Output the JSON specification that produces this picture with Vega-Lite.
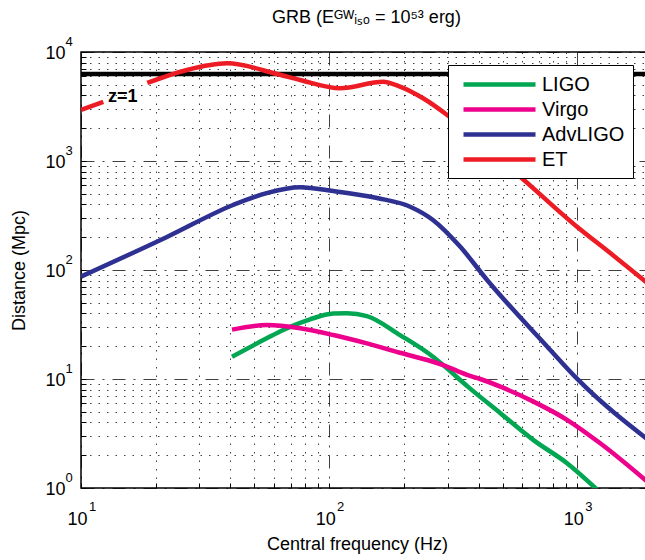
{
  "$schema": "https://vega.github.io/schema/vega-lite/v6.json",
  "width": 571,
  "height": 436,
  "autosize": {"type": "none"},
  "padding": {"left": 81, "top": 52, "right": 0, "bottom": 72},
  "background": "white",
  "config": {"font": "Liberation Sans", "view": {"stroke": "#000", "strokeWidth": 1.5}},
  "title": {"text": "GRB (Eᴳᵂᵢₛₒ = 10⁵³ erg)", "fontSize": 18, "fontWeight": "normal", "font": "Liberation Sans", "anchor": "middle", "frame": "group", "baseline": "alphabetic", "offset": -5, "color": "#000"},
  "datasets": {
    "curves": [
      {"detector": "ET", "seg": "ET1", "f": 10.0, "D": 2940},
      {"detector": "ET", "seg": "ET1", "f": 12.3, "D": 3480},
      {"detector": "ET", "seg": "ET2", "f": 18.5, "D": 5200},
      {"detector": "ET", "seg": "ET2", "f": 26.7, "D": 6840},
      {"detector": "ET", "seg": "ET2", "f": 38.8, "D": 7870},
      {"detector": "ET", "seg": "ET2", "f": 61.7, "D": 6280},
      {"detector": "ET", "seg": "ET2", "f": 76.4, "D": 5540},
      {"detector": "ET", "seg": "ET2", "f": 110.8, "D": 4650},
      {"detector": "ET", "seg": "ET2", "f": 165, "D": 5340},
      {"detector": "ET", "seg": "ET2", "f": 193, "D": 4810},
      {"detector": "ET", "seg": "ET2", "f": 239, "D": 3760},
      {"detector": "ET", "seg": "ET2", "f": 299, "D": 2640},
      {"detector": "ET", "seg": "ET2", "f": 400, "D": 1510},
      {"detector": "ET", "seg": "ET2", "f": 578, "D": 745},
      {"detector": "ET", "seg": "ET2", "f": 1000, "D": 248},
      {"detector": "ET", "seg": "ET2", "f": 1358, "D": 143},
      {"detector": "ET", "seg": "ET2", "f": 2000, "D": 70},
      {"detector": "AdvLIGO", "seg": "A", "f": 10, "D": 87},
      {"detector": "AdvLIGO", "seg": "A", "f": 22.2, "D": 201},
      {"detector": "AdvLIGO", "seg": "A", "f": 41, "D": 395},
      {"detector": "AdvLIGO", "seg": "A", "f": 56, "D": 508},
      {"detector": "AdvLIGO", "seg": "A", "f": 76.4, "D": 575},
      {"detector": "AdvLIGO", "seg": "A", "f": 104, "D": 530},
      {"detector": "AdvLIGO", "seg": "A", "f": 156, "D": 457},
      {"detector": "AdvLIGO", "seg": "A", "f": 212, "D": 381},
      {"detector": "AdvLIGO", "seg": "A", "f": 262, "D": 288},
      {"detector": "AdvLIGO", "seg": "A", "f": 337, "D": 164},
      {"detector": "AdvLIGO", "seg": "A", "f": 433, "D": 81},
      {"detector": "AdvLIGO", "seg": "A", "f": 757, "D": 19.8},
      {"detector": "AdvLIGO", "seg": "A", "f": 1009, "D": 9.8},
      {"detector": "AdvLIGO", "seg": "A", "f": 2000, "D": 2.6},
      {"detector": "LIGO", "seg": "L", "f": 40.6, "D": 16.0},
      {"detector": "LIGO", "seg": "L", "f": 56, "D": 23.6},
      {"detector": "LIGO", "seg": "L", "f": 65.3, "D": 28.2},
      {"detector": "LIGO", "seg": "L", "f": 83.8, "D": 35.3},
      {"detector": "LIGO", "seg": "L", "f": 104, "D": 39.8},
      {"detector": "LIGO", "seg": "L", "f": 118, "D": 40.1},
      {"detector": "LIGO", "seg": "L", "f": 142, "D": 37.8},
      {"detector": "LIGO", "seg": "L", "f": 193, "D": 25.3},
      {"detector": "LIGO", "seg": "L", "f": 262, "D": 16.0},
      {"detector": "LIGO", "seg": "L", "f": 288, "D": 13.4},
      {"detector": "LIGO", "seg": "L", "f": 360, "D": 8.6},
      {"detector": "LIGO", "seg": "L", "f": 490, "D": 4.85},
      {"detector": "LIGO", "seg": "L", "f": 666, "D": 2.75},
      {"detector": "LIGO", "seg": "L", "f": 912, "D": 1.68},
      {"detector": "LIGO", "seg": "L", "f": 1200, "D": 0.97},
      {"detector": "Virgo", "seg": "V", "f": 40.6, "D": 28.4},
      {"detector": "Virgo", "seg": "V", "f": 56, "D": 31.3},
      {"detector": "Virgo", "seg": "V", "f": 76.4, "D": 29.2},
      {"detector": "Virgo", "seg": "V", "f": 104, "D": 25.3},
      {"detector": "Virgo", "seg": "V", "f": 142, "D": 21.2},
      {"detector": "Virgo", "seg": "V", "f": 193, "D": 17.4},
      {"detector": "Virgo", "seg": "V", "f": 262, "D": 14.4},
      {"detector": "Virgo", "seg": "V", "f": 288, "D": 13.4},
      {"detector": "Virgo", "seg": "V", "f": 360, "D": 10.9},
      {"detector": "Virgo", "seg": "V", "f": 406, "D": 10.0},
      {"detector": "Virgo", "seg": "V", "f": 490, "D": 8.5},
      {"detector": "Virgo", "seg": "V", "f": 666, "D": 6.2},
      {"detector": "Virgo", "seg": "V", "f": 912, "D": 4.2},
      {"detector": "Virgo", "seg": "V", "f": 1237, "D": 2.57},
      {"detector": "Virgo", "seg": "V", "f": 2000, "D": 1.05}
    ],
    "z1": [
      {"f": 10, "D": 6280},
      {"f": 2000, "D": 6280}
    ],
    "labels": [
      {"f": 12.85, "D": 3828, "label": "z=1"}
    ]
  },
  "layer": [
    {
      "data": {"name": "z1"},
      "mark": {"type": "line", "color": "#000", "strokeWidth": 4.5},
      "encoding": {
        "x": {
          "field": "f", "type": "quantitative",
          "scale": {"type": "log", "domain": [10, 2000], "nice": false},
          "axis": {
            "orient": "bottom", "values": [10, 100, 1000],
            "labelExpr": "'' + round(log(datum.value)/LN10)",
            "labelFontSize": 13, "labelColor": "#000", "labelBaseline": "top", "labelPadding": 12, "labelAlign": "center", "labelOffset": 11,
            "labelFlush": false, "labelOverlap": false, "grid": false, "ticks": false, "domain": false, "title": null
          }
        },
        "y": {
          "field": "D", "type": "quantitative",
          "scale": {"type": "log", "domain": [1, 10000], "nice": false},
          "axis": {
            "orient": "left", "values": [1, 10, 100, 1000, 10000],
            "labelExpr": "'' + round(log(datum.value)/LN10)",
            "labelFontSize": 13, "labelColor": "#000", "labelAlign": "left", "labelBaseline": "middle", "labelPadding": 16, "labelOffset": -10.5,
            "labelFlush": false, "labelOverlap": false, "grid": false, "ticks": false, "domain": false, "title": null
          }
        }
      }
    },
    {
      "data": {"name": "curves"},
      "mark": {"type": "line", "strokeWidth": 4.5, "interpolate": "monotone", "clip": true},
      "encoding": {
        "x": {
          "field": "f", "type": "quantitative",
          "scale": {"type": "log", "domain": [10, 2000], "nice": false},
          "axis": {
            "orient": "bottom",
            "values": [10, 20, 30, 40, 50, 60, 70, 80, 90, 100, 200, 300, 400, 500, 600, 700, 800, 900, 1000],
            "labelExpr": "abs(log(datum.value)/LN10 - round(log(datum.value)/LN10)) < 0.001 ? '10' : ''",
            "labelFontSize": 18, "labelColor": "#000", "labelBaseline": "top", "labelPadding": 27, "labelAlign": "center", "labelOffset": -4,
            "labelFlush": false, "labelOverlap": false, "domain": false,
            "ticks": true, "tickSize": -5, "tickColor": "#000", "tickWidth": 1,
            "title": "Central frequency (Hz)", "titleFontSize": 18, "titleFontWeight": "normal", "titleColor": "#000",
            "titleX": 276, "titleY": 61, "titleBaseline": "alphabetic", "titleAlign": "center",
            "grid": true, "gridColor": "#000", "gridWidth": 1, "gridOpacity": 0.75,
            "gridDash": {"condition": {"test": "abs(log(datum.value)/LN10 - round(log(datum.value)/LN10)) < 0.001", "value": [13, 8, 2, 8]}, "value": [1.5, 7]}
          }
        },
        "y": {
          "field": "D", "type": "quantitative",
          "scale": {"type": "log", "domain": [1, 10000], "nice": false},
          "axis": {
            "orient": "left",
            "values": [1, 2, 3, 4, 5, 6, 7, 8, 9, 10, 20, 30, 40, 50, 60, 70, 80, 90, 100, 200, 300, 400, 500, 600, 700, 800, 900, 1000, 2000, 3000, 4000, 5000, 6000, 7000, 8000, 9000, 10000],
            "labelExpr": "abs(log(datum.value)/LN10 - round(log(datum.value)/LN10)) < 0.001 ? '10' : ''",
            "labelFontSize": 18, "labelColor": "#000", "labelAlign": "right", "labelBaseline": "middle", "labelPadding": 21, "labelOffset": 1.5,
            "labelFlush": false, "labelOverlap": false, "domain": false,
            "ticks": true, "tickSize": -5, "tickColor": "#000", "tickWidth": 1,
            "title": "Distance (Mpc)", "titleFontSize": 18, "titleFontWeight": "normal", "titleColor": "#000",
            "titleX": -57, "titleY": 218, "titleAngle": -90, "titleBaseline": "alphabetic", "titleAlign": "center",
            "grid": true, "gridColor": "#000", "gridWidth": 1, "gridOpacity": 0.75,
            "gridDash": {"condition": {"test": "abs(log(datum.value)/LN10 - round(log(datum.value)/LN10)) < 0.001", "value": [13, 8, 2, 8]}, "value": [1.5, 7]}
          }
        },
        "color": {
          "field": "detector", "type": "nominal",
          "scale": {"domain": ["LIGO", "Virgo", "AdvLIGO", "ET"], "range": ["#00a651", "#ec008c", "#2e3192", "#ed1c24"]},
          "legend": {
            "orient": "none", "legendX": 367, "legendY": 13, "title": null,
            "fillColor": "white", "strokeColor": "#000", "padding": 8, "cornerRadius": 0,
            "symbolType": "M-4,0H4", "symbolSize": 324, "symbolStrokeWidth": 4.5, "symbolOffset": 32,
            "labelOffset": 31, "labelFontSize": 20, "labelColor": "#000", "labelFont": "Liberation Sans", "rowPadding": 3, "zindex": 1
          }
        },
        "detail": {"field": "seg", "type": "nominal"}
      }
    },
    {
      "data": {"name": "labels"},
      "mark": {"type": "text", "fontSize": 18, "fontWeight": "bold", "align": "left", "baseline": "middle", "font": "Liberation Sans", "color": "#000"},
      "encoding": {
        "x": {"field": "f", "type": "quantitative", "scale": {"type": "log", "domain": [10, 2000], "nice": false}, "axis": null},
        "y": {"field": "D", "type": "quantitative", "scale": {"type": "log", "domain": [1, 10000], "nice": false}, "axis": null},
        "text": {"field": "label"}
      }
    }
  ],
  "resolve": {"axis": {"x": "independent", "y": "independent"}}
}
